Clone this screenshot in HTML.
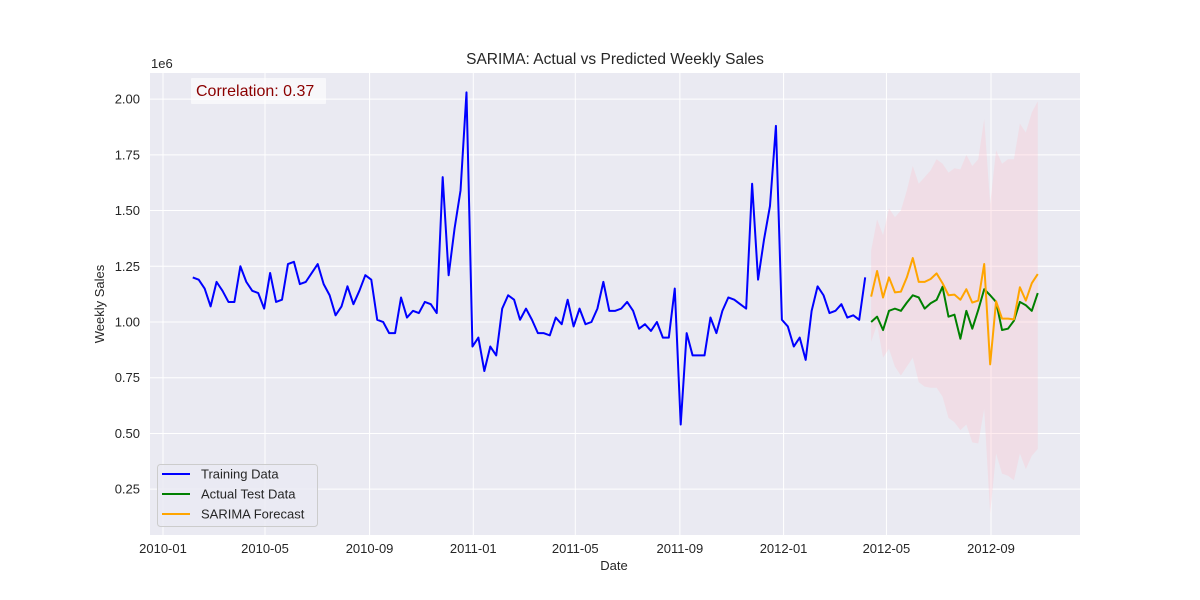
<!DOCTYPE html>
<html><head><meta charset="utf-8"><style>
html,body{margin:0;padding:0;background:#fff;}
svg{display:block;font-family:"Liberation Sans",Arial,sans-serif;}
</style></head><body>
<svg id="chart" width="1200" height="600" viewBox="0 0 1200 600" xmlns="http://www.w3.org/2000/svg"></svg>
<script>
const trainStart = "2010-02-05";
const trainValues = [1.20,1.19,1.15,1.07,1.18,1.14,1.09,1.09,1.25,1.18,1.14,1.13,1.06,1.22,1.09,1.10,1.26,1.27,1.17,1.18,1.22,1.26,1.17,1.12,1.03,1.07,1.16,1.08,1.14,1.21,1.19,1.01,1.00,0.95,0.95,1.11,1.02,1.05,1.04,1.09,1.08,1.04,1.65,1.21,1.42,1.59,2.03,0.89,0.93,0.78,0.89,0.85,1.06,1.12,1.10,1.01,1.06,1.01,0.95,0.95,0.94,1.02,0.99,1.10,0.98,1.06,0.99,1.00,1.06,1.18,1.05,1.05,1.06,1.09,1.05,0.97,0.99,0.96,1.00,0.93,0.93,1.15,0.54,0.95,0.85,0.85,0.85,1.02,0.95,1.05,1.11,1.10,1.08,1.06,1.62,1.19,1.37,1.52,1.88,1.01,0.98,0.89,0.93,0.83,1.05,1.16,1.12,1.04,1.05,1.08,1.02,1.03,1.01,1.20];
const testStart = "2012-04-13";
const testValues = [1.00,1.024,0.964,1.05,1.06,1.05,1.087,1.12,1.11,1.06,1.084,1.099,1.158,1.024,1.033,0.925,1.05,0.97,1.054,1.147,1.12,1.09,0.964,0.97,1.006,1.09,1.075,1.05,1.13];
const forecastValues = [1.114,1.229,1.11,1.20,1.133,1.136,1.20,1.287,1.18,1.18,1.193,1.218,1.174,1.12,1.123,1.10,1.147,1.087,1.096,1.26,0.81,1.093,1.015,1.015,1.012,1.156,1.096,1.174,1.215];
const upperValues = [1.32,1.46,1.39,1.51,1.47,1.50,1.59,1.70,1.62,1.65,1.68,1.73,1.71,1.67,1.69,1.685,1.75,1.70,1.73,1.91,1.53,1.77,1.71,1.73,1.73,1.89,1.85,1.94,1.99];
const lowerValues = [0.91,0.99,0.84,0.88,0.80,0.76,0.80,0.84,0.73,0.71,0.705,0.705,0.665,0.57,0.55,0.515,0.54,0.46,0.455,0.61,0.14,0.41,0.32,0.31,0.29,0.41,0.34,0.40,0.43];
const yTicks = [0.25,0.50,0.75,1.00,1.25,1.50,1.75,2.00];
const xTickLabels = ["2010-01","2010-05","2010-09","2011-01","2011-05","2011-09","2012-01","2012-05","2012-09"];

const NS="http://www.w3.org/2000/svg";
const svg=document.getElementById('chart');
const L=150,R=1080,T=73,B=535;
const DAY=86400000;
const t0=Date.parse("2010-01-01T00:00:00Z");
const pxPerDay=0.8501;
const xMinDay=(L-163)/pxPerDay, xMaxDay=(R-163)/pxPerDay;
function xs(dateMs){const d=(dateMs-t0)/DAY;return L+(d-xMinDay)/(xMaxDay-xMinDay)*(R-L);}
const yMin=1-(B-322)/222.9, yMax=1+(322-T)/222.9;
function ys(v){return B-(v-yMin)/(yMax-yMin)*(B-T);}
function mk(tag,attrs,parent){const e=document.createElementNS(NS,tag);for(const k in attrs)e.setAttribute(k,attrs[k]);(parent||svg).appendChild(e);return e;}
function weekDates(start,n){const s=Date.parse(start+"T00:00:00Z");return Array.from({length:n},(_,i)=>s+i*7*DAY);}

let bg=mk('rect',{x:L,y:T,width:R-L,height:B-T,fill:'#eaeaf2'});



yTicks.forEach(v=>{
  const y=ys(v);
  let g=mk('line',{x1:L,x2:R,y1:y,y2:y,stroke:'#fff','stroke-width':1});
  
  
  let t=mk('text',{x:L-10,y:y+4.5,'text-anchor':'end','font-size':13,fill:'#262626'});
  t.textContent=v.toFixed(2);
  
  
});
xTickLabels.forEach(lab=>{
  const x=xs(Date.parse(lab+"-01T00:00:00Z"));
  let g=mk('line',{x1:x,x2:x,y1:T,y2:B,stroke:'#fff','stroke-width':1});
  
  
  let t=mk('text',{x:x,y:B+18,'text-anchor':'middle','font-size':13,fill:'#262626'});
  t.textContent=lab;
  
  
});

const td=weekDates(testStart,testValues.length);
let pts=td.map((d,i)=>xs(d)+','+ys(upperValues[i]));
for(let i=td.length-1;i>=0;i--)pts.push(xs(td[i])+','+ys(lowerValues[i]));
let band=mk('polygon',{points:pts.join(' '),fill:'#ffc0cb','fill-opacity':0.3});



function line(dates,vals,color,name){
  const p=mk('polyline',{points:dates.map((d,i)=>xs(d)+','+ys(vals[i])).join(' '),fill:'none',stroke:color,'stroke-width':2,'stroke-linejoin':'round'});
  
  
}
line(weekDates(trainStart,trainValues.length),trainValues,'#0000ff','training-line');
line(td,testValues,'#008000','actual-test-line');
line(td,forecastValues,'#ffa500','forecast-line');

let tt=mk('text',{x:615,y:64,'text-anchor':'middle','font-size':15.5,fill:'#262626'});
tt.textContent='SARIMA: Actual vs Predicted Weekly Sales';


let ox=mk('text',{x:151,y:68,'font-size':13,fill:'#262626'});
ox.textContent='1e6';


let xl=mk('text',{x:614,y:570,'text-anchor':'middle','font-size':13,fill:'#262626'});
xl.textContent='Date';


let yl=mk('text',{x:0,y:0,'text-anchor':'middle','font-size':13,fill:'#262626',transform:'translate(104,304) rotate(-90)'});
yl.textContent='Weekly Sales';



let cb=mk('rect',{x:191,y:78,width:135,height:26,fill:'#fff','fill-opacity':0.6,rx:1});


let ct=mk('text',{x:196,y:96,'font-size':16,fill:'#8b0000'});
ct.textContent='Correlation: 0.37';



let lg=mk('rect',{x:157.5,y:464.5,width:160,height:62,fill:'#eaeaf2','fill-opacity':0.8,stroke:'#cccccc',rx:3});


[['Training Data','#0000ff'],['Actual Test Data','#008000'],['SARIMA Forecast','#ffa500']].forEach((e,i)=>{
  const y=474+i*20;
  let l=mk('line',{x1:162,x2:190,y1:y,y2:y,stroke:e[1],'stroke-width':2});
  
  
  let t=mk('text',{x:201,y:y+4.5,'font-size':13,fill:'#262626'});
  t.textContent=e[0];
  
  
});
</script>
</body></html>
